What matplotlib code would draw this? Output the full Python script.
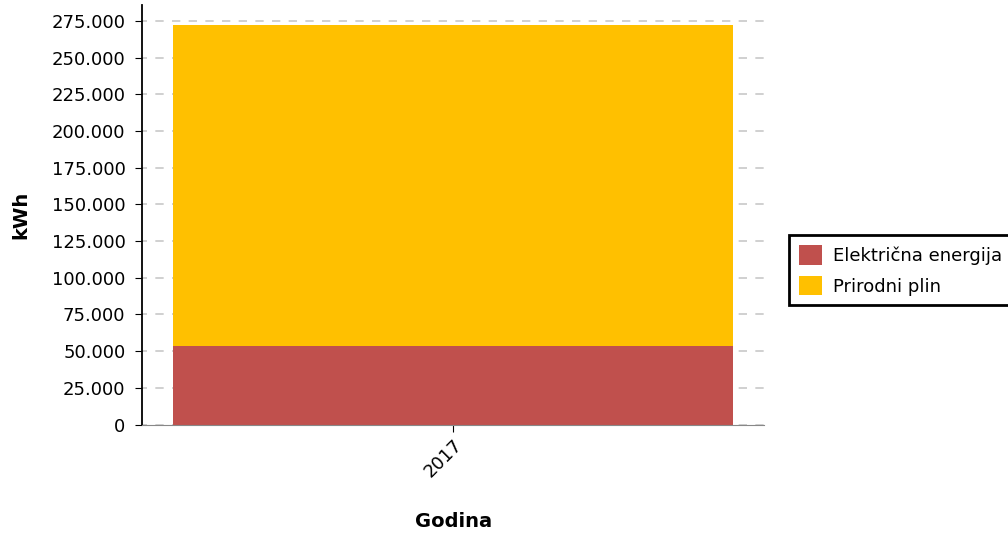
import matplotlib.pyplot as plt
from matplotlib.ticker import FuncFormatter

godine = ["2017"]
elektricna = [53600]
plin = [218600]
serije = ["Električna energija", "Prirodni plin"]
boje = ["#C0504D", "#FFC000"]

fig = plt.figure(figsize=(10.08, 5.34), dpi=100)
ax = fig.add_axes([0.141, 0.205, 0.617, 0.786])

x = range(len(godine))
ax.bar(x, elektricna, width=0.9, color=boje[0], label=serije[0], zorder=2)
ax.bar(x, plin, width=0.9, bottom=elektricna, color=boje[1], label=serije[1], zorder=2)

ax.set_xlim(-0.5, 0.5)
ax.set_ylim(0, 286000)
ax.set_yticks(range(0, 275001, 25000))
ax.yaxis.set_major_formatter(FuncFormatter(lambda v, p: f"{int(v):,}".replace(",", ".")))
ax.set_xticks(list(x))
ax.set_xticklabels(godine, rotation=45, ha="right", rotation_mode="anchor")

ax.grid(axis="y", color="#c8c8c8", linestyle=(2, (5, 5)), linewidth=1.2, zorder=0)
for s in ["top", "right"]:
    ax.spines[s].set_visible(False)
ax.spines["bottom"].set_color("#888888")
ax.spines["left"].set_linewidth(1.3)
ax.tick_params(labelsize=13, length=5)
ax.tick_params(axis="y", pad=7)

ax.set_xlabel("Godina", fontsize=14, fontweight="bold", labelpad=22)
ax.set_ylabel("kWh", fontsize=14, fontweight="bold", labelpad=15)

leg = fig.legend(loc="center left", bbox_to_anchor=(0.774, 0.494), fontsize=13,
                 fancybox=False, edgecolor="black", framealpha=1,
                 handlelength=1.25, handleheight=1.3, handletextpad=0.6,
                 labelspacing=0.6, borderpad=0.55)
leg.get_frame().set_linewidth(2)

fig.savefig("out.png", dpi=100)
